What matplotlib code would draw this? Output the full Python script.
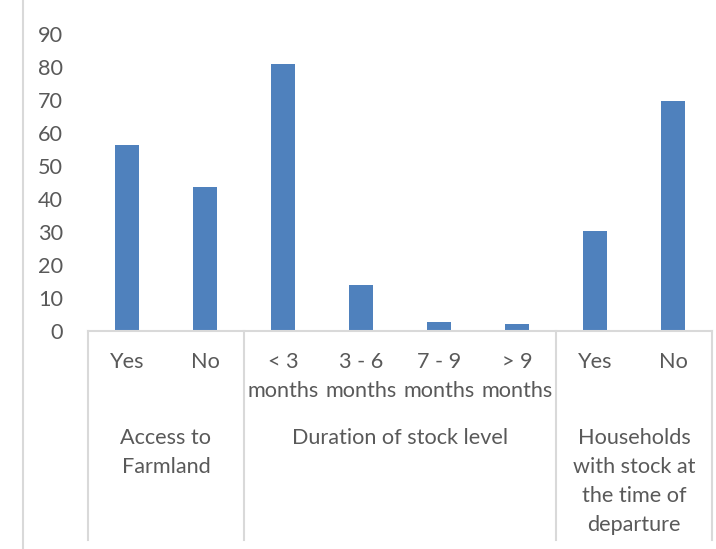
import matplotlib
matplotlib.use("Agg")
import matplotlib.pyplot as plt
from matplotlib.lines import Line2D
from matplotlib import transforms

# Survey results, percent of households
sub_labels = ["Yes", "No", "< 3\nmonths", "3 - 6\nmonths", "7 - 9\nmonths",
              "> 9\nmonths", "Yes", "No"]
values = [56.5, 43.5, 81.0, 14.0, 2.8, 2.2, 30.4, 69.6]

group_labels = ["Access to\nFarmland", "Duration of stock level",
                "Households\nwith stock at\nthe time of\ndeparture"]
group_sizes = [2, 4, 2]

W, H = 716, 549
BAR_COLOR = "#4F81BD"
TEXT_COLOR = "#595959"
LINE_COLOR = "#D9D9D9"
FONT = "Lato"
FS = 15.6

plt.rcParams["font.family"] = [FONT, "DejaVu Sans"]

fig = plt.figure(figsize=(W / 100, H / 100), dpi=100)
ax = fig.add_axes([88 / W, (H - 331) / H, (712 - 88) / W, (331 - 34) / H])

x = list(range(len(values)))
ax.bar(x, values, width=0.31, color=BAR_COLOR, zorder=2)

ax.set_xlim(-0.5, len(values) - 0.5)
ax.set_ylim(0, 90)
ax.set_yticks(range(0, 91, 10))
ax.tick_params(axis="y", length=0, pad=18, labelsize=FS, labelcolor=TEXT_COLOR)
ax.set_xticks([])
for side in ["top", "right", "left"]:
    ax.spines[side].set_visible(False)
ax.spines["bottom"].set_color(LINE_COLOR)
ax.spines["bottom"].set_linewidth(1.5)

# x in data units, y in figure fraction
trans = transforms.blended_transform_factory(ax.transData, fig.transFigure)

def fy(py):
    return 1 - py / H

# category separators below the axis
edges = [-0.5]
for n in group_sizes:
    edges.append(edges[-1] + n)
for e in edges:
    fig.add_artist(Line2D([e, e], [fy(331), fy(540)], transform=trans,
                          color=LINE_COLOR, lw=1.5))

# inner category labels
line_h = 29
for xi, lab in zip(x, sub_labels):
    for k, line in enumerate(lab.split("\n")):
        fig.text(xi, fy(362 + k * line_h), line, transform=trans,
                 ha="center", va="center", fontsize=FS, color=TEXT_COLOR)

# outer group labels
for i, lab in enumerate(group_labels):
    center = (edges[i] + edges[i + 1]) / 2
    for k, line in enumerate(lab.split("\n")):
        fig.text(center, fy(438 + k * line_h), line, transform=trans,
                 ha="center", va="center", fontsize=FS, color=TEXT_COLOR)

# chart area border on the left
fig.add_artist(Line2D([23 / W, 23 / W], [0, 1], transform=fig.transFigure,
                      color=LINE_COLOR, lw=1.5))

fig.savefig("out.png", dpi=100)
